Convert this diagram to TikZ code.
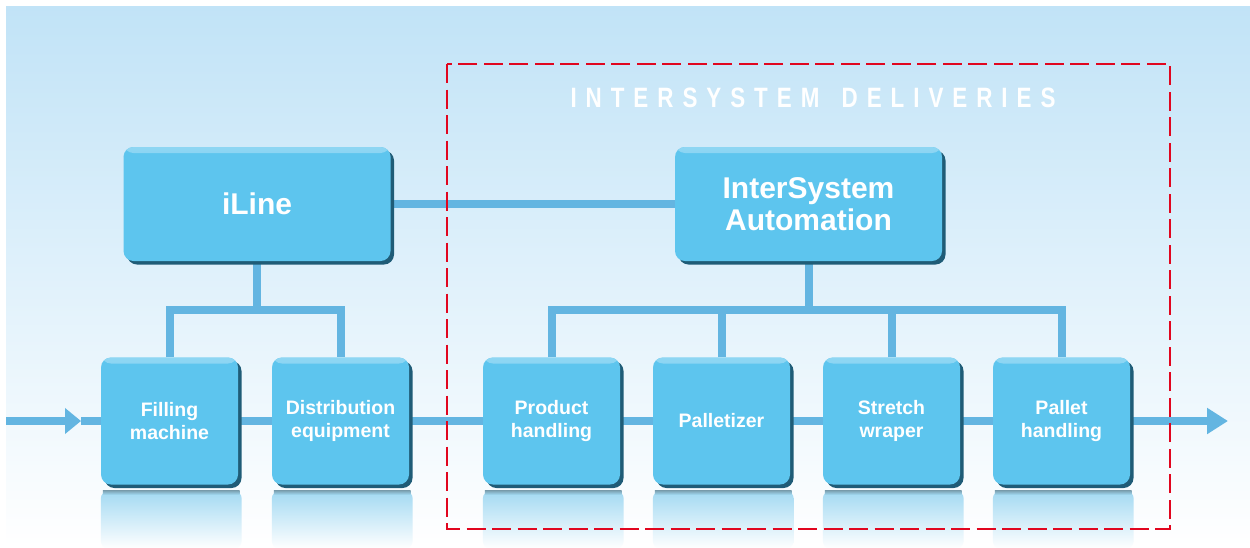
\documentclass[tikz,border=0pt]{standalone}
\usepackage{fontspec}
\setmainfont{Liberation Sans}
\newfontfamily\titlefont{Liberation Sans}[FakeStretch=0.8,LetterSpace=32]
\usetikzlibrary{arrows.meta,calc,shadows,backgrounds}
\definecolor{boxblue}{HTML}{5DC5EE}
\definecolor{boxlight}{HTML}{8ED6F3}
\definecolor{boxdark}{HTML}{1F5C77}
\definecolor{lineblue}{HTML}{63B5E1}
\definecolor{bgtop}{HTML}{C1E3F7}
\definecolor{reflblue}{HTML}{A2D9F2}
\definecolor{dashred}{HTML}{E1061F}
\pgfdeclarelayer{bg}
\pgfsetlayers{bg,background,main}
\tikzset{
  unitbox/.style={rounded corners=10pt, fill=boxblue, text=white, align=center, inner sep=0pt,
    general shadow={fill=boxdark, shadow xshift=3.5pt, shadow yshift=-3.5pt},
    path picture={\shade[top color=boxlight, bottom color=boxblue]
      (path picture bounding box.north west) rectangle
      ([yshift=-6pt]path picture bounding box.north east);}},
  stationbox/.style={unitbox, minimum width=137pt, minimum height=127pt,
    font=\bfseries\fontsize{19.5}{23}\selectfont},
  controlbox/.style={unitbox, minimum width=267pt, minimum height=114pt,
    font=\bfseries\fontsize{30}{32}\selectfont},
  link/.style={draw=lineblue, line width=8pt},
  flowarrow/.style={draw=lineblue, line width=8pt, -{Triangle[length=16pt,width=25pt]}},
  flowarrowlong/.style={draw=lineblue, line width=8pt, -{Triangle[length=21pt,width=25pt]}},
  frame/.style={draw=dashred, line width=2pt, dash pattern=on 19pt off 6.5pt},
}
\begin{document}
\begin{tikzpicture}[x=1pt,y=-1pt]
\useasboundingbox (0,0) rectangle (1250,547);
\begin{pgfonlayer}{bg}
  \shade[top color=bgtop, bottom color=white] (6,6) rectangle (1250,547);
\end{pgfonlayer}

% control boxes
\node[controlbox] (iline) at (257,204) {iLine};
\node[controlbox] (isa) at (808.5,204) {InterSystem\\Automation};

% station boxes
\node[stationbox] (fill) at (169.5,421) {Filling\\machine};
\node[stationbox] (dist) at (340.5,421) {Distribution\\equipment};
\node[stationbox] (prod) at (551.5,421) {Product\\handling};
\node[stationbox] (pal)  at (721.5,421) {Palletizer};
\node[stationbox] (str)  at (891.5,421) {Stretch\\wraper};
\node[stationbox] (pall) at (1061.5,421) {Pallet\\handling};

% title
\node[text=white, font=\titlefont\bfseries\fontsize{28}{30}\selectfont] (title) at (813,98) {INTERSYSTEM\hspace{7pt} DELIVERIES};

\begin{pgfonlayer}{background}
  % reflections
  \foreach \n in {fill,dist,prod,pal,str,pall} {
    \shade[rounded corners=8pt, top color=reflblue, bottom color=white]
      ($(\n.south west)+(0,6)$) rectangle ($(\n.south east)+(3.5,64)$);
    \shade[top color=boxdark!60, bottom color=reflblue]
      ($(\n.south west)+(2,5.5)$) rectangle ($(\n.south east)+(1.5,10)$);
  }
  % links
  \path[link] (iline.east) -- (isa.west);
  \path[link] (iline.south) -- ++(0,49) coordinate (lj);
  \path[link] (fill.north) |- (lj) -| (dist.north);
  \path[link] (isa.south) -- ++(0,49) coordinate (rj);
  \path[link] (prod.north) |- (rj) -| (pall.north);
  \path[link] (pal.north) -- (pal.north |- rj);
  \path[link] (str.north) -- (str.north |- rj);
  % main flow
  \coordinate (flowstart) at (6,421);
  \coordinate (tipin) at (81,421);
  \coordinate (flowend) at (1228,421);
  \path[flowarrow] (flowstart) -- (tipin);
  \path[link] (tipin) -- (fill.west);
  \path[link] (fill.east) -- (dist.west);
  \path[link] (dist.east) -- (prod.west);
  \path[link] (prod.east) -- (pal.west);
  \path[link] (pal.east) -- (str.west);
  \path[link] (str.east) -- (pall.west);
  \path[flowarrowlong] (pall.east) -- (flowend);
\end{pgfonlayer}

% dashed frame
\draw[frame] (447,64) rectangle (1170,529);
\end{tikzpicture}
\end{document}
